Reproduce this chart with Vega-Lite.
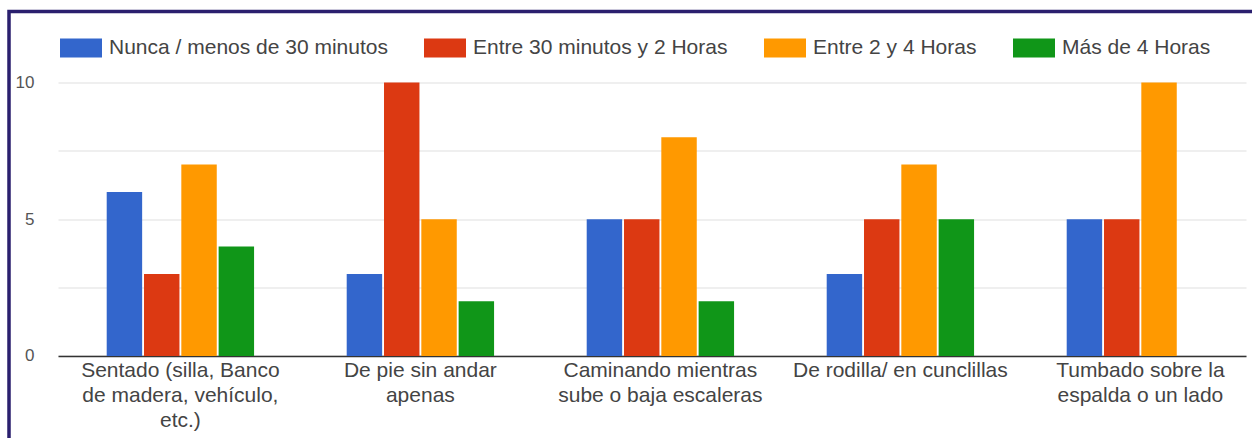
{
  "$schema": "https://vega.github.io/schema/vega-lite/v6.json",
  "width": 1260,
  "height": 440,
  "autosize": {"type": "none"},
  "padding": {"left": 9, "top": 11.5, "right": 0, "bottom": 0},
  "background": "white",
  "data": {
    "values": [
      {"postura": "Sentado (silla, Banco de madera, vehículo, etc.)", "tiempo": "Nunca / menos de 30 minutos", "n": 6},
      {"postura": "Sentado (silla, Banco de madera, vehículo, etc.)", "tiempo": "Entre 30 minutos y 2 Horas", "n": 3},
      {"postura": "Sentado (silla, Banco de madera, vehículo, etc.)", "tiempo": "Entre 2 y 4 Horas", "n": 7},
      {"postura": "Sentado (silla, Banco de madera, vehículo, etc.)", "tiempo": "Más de 4 Horas", "n": 4},
      {"postura": "De pie sin andar apenas", "tiempo": "Nunca / menos de 30 minutos", "n": 3},
      {"postura": "De pie sin andar apenas", "tiempo": "Entre 30 minutos y 2 Horas", "n": 10},
      {"postura": "De pie sin andar apenas", "tiempo": "Entre 2 y 4 Horas", "n": 5},
      {"postura": "De pie sin andar apenas", "tiempo": "Más de 4 Horas", "n": 2},
      {"postura": "Caminando mientras sube o baja escaleras", "tiempo": "Nunca / menos de 30 minutos", "n": 5},
      {"postura": "Caminando mientras sube o baja escaleras", "tiempo": "Entre 30 minutos y 2 Horas", "n": 5},
      {"postura": "Caminando mientras sube o baja escaleras", "tiempo": "Entre 2 y 4 Horas", "n": 8},
      {"postura": "Caminando mientras sube o baja escaleras", "tiempo": "Más de 4 Horas", "n": 2},
      {"postura": "De rodilla/ en cunclillas", "tiempo": "Nunca / menos de 30 minutos", "n": 3},
      {"postura": "De rodilla/ en cunclillas", "tiempo": "Entre 30 minutos y 2 Horas", "n": 5},
      {"postura": "De rodilla/ en cunclillas", "tiempo": "Entre 2 y 4 Horas", "n": 7},
      {"postura": "De rodilla/ en cunclillas", "tiempo": "Más de 4 Horas", "n": 5},
      {"postura": "Tumbado sobre la espalda o un lado", "tiempo": "Nunca / menos de 30 minutos", "n": 5},
      {"postura": "Tumbado sobre la espalda o un lado", "tiempo": "Entre 30 minutos y 2 Horas", "n": 5},
      {"postura": "Tumbado sobre la espalda o un lado", "tiempo": "Entre 2 y 4 Horas", "n": 10}
    ]
  },
  "mark": {"type": "bar"},
  "encoding": {
    "x": {
      "field": "postura",
      "type": "nominal",
      "sort": null,
      "scale": {"range": [49, 1237], "paddingInner": 0.386, "paddingOuter": 0.168, "align": 0.604},
      "axis": {
        "title": null,
        "orient": "bottom",
        "offset": -95.5,
        "labelAngle": 0,
        "ticks": false,
        "tickSize": 0,
        "domain": true,
        "domainColor": "#333333",
        "domainWidth": 1.5,
        "labelPadding": 3.5,
        "labelFontSize": 21,
        "labelFont": "Liberation Sans",
        "labelColor": "#444444",
        "labelLineHeight": 25,
        "labelLimit": 400,
        "labelOverlap": false,
        "labelExpr": "datum.label == 'Sentado (silla, Banco de madera, vehículo, etc.)' ? ['Sentado (silla, Banco', 'de madera, vehículo,', 'etc.)'] : datum.label == 'De pie sin andar apenas' ? ['De pie sin andar', 'apenas'] : datum.label == 'Caminando mientras sube o baja escaleras' ? ['Caminando mientras', 'sube o baja escaleras'] : datum.label == 'Tumbado sobre la espalda o un lado' ? ['Tumbado sobre la', 'espalda o un lado'] : datum.label"
      }
    },
    "xOffset": {
      "field": "tiempo",
      "type": "nominal",
      "scale": {
        "domain": ["Nunca / menos de 30 minutos", "Entre 30 minutos y 2 Horas", "Entre 2 y 4 Horas", "Más de 4 Horas"],
        "paddingInner": 0.05,
        "paddingOuter": 0
      }
    },
    "y": {
      "field": "n",
      "type": "quantitative",
      "scale": {"domain": [-3.4918, 12.596], "nice": false, "zero": false},
      "axis": {
        "title": null,
        "values": [0, 2.5, 5, 7.5, 10],
        "labelExpr": "datum.value % 5 == 0 ? datum.label : ''",
        "offset": -49,
        "domain": false,
        "ticks": false,
        "tickSize": 0,
        "labelPadding": 24,
        "labelFontSize": 17,
        "labelFont": "Liberation Sans",
        "labelColor": "#555555",
        "grid": true,
        "gridColor": "#e0e0e0",
        "gridWidth": 1.2
      }
    },
    "y2": {"datum": 0},
    "color": {
      "field": "tiempo",
      "type": "nominal",
      "scale": {
        "domain": ["Nunca / menos de 30 minutos", "Entre 30 minutos y 2 Horas", "Entre 2 y 4 Horas", "Más de 4 Horas"],
        "range": ["#3366cc", "#dc3912", "#ff9900", "#109618"]
      },
      "legend": {
        "title": null,
        "orient": "none",
        "legendX": 51,
        "legendY": 15.5,
        "direction": "horizontal",
        "symbolType": "M-1,-0.45H1V0.45H-1Z",
        "symbolSize": 1764,
        "symbolStrokeWidth": 0,
        "symbolOpacity": 1,
        "labelFontSize": 21,
        "labelFont": "Liberation Sans",
        "labelColor": "#444444",
        "labelOffset": 7,
        "columnPadding": 36,
        "labelLimit": 400,
        "padding": 0
      }
    }
  },
  "config": {
    "view": {"stroke": "#2a1f6e", "strokeWidth": 3.5}
  }
}
